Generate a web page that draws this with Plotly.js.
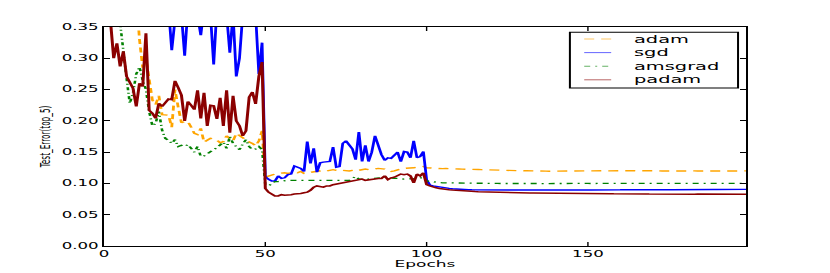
<!DOCTYPE html>
<html><head><meta charset="utf-8">
<script src="https://cdn.plot.ly/plotly-3.0.1.min.js"></script>
<style>
html,body{margin:0;padding:0;background:#fff;overflow:hidden;}
#wrap{width:830px;height:273px;overflow:hidden;}
#chart{width:415px;height:273px;transform:scaleX(2);transform-origin:0 0;}
</style></head>
<body><div id="wrap"><div id="chart"></div></div>
<script>
const seriesNames = ['adam', 'sgd', 'amsgrad', 'padam'];
const seriesColors = ['#FFA500', '#0000FF', '#008000', '#8B0000'];

const adam = [
0.90,0.75,0.65,0.58,0.52,0.48,0.45,0.43,0.42,0.41,
0.40,0.33,0.285,0.300,0.262,0.233,0.226,0.240,0.210,0.209,
0.209,0.190,0.250,0.222,0.197,0.199,0.199,0.190,0.180,0.178,
0.188,0.166,0.170,0.172,0.171,0.169,0.165,0.167,0.176,0.172,
0.168,0.180,0.176,0.172,0.169,0.166,0.164,0.160,0.168,0.184,
0.110,0.112,0.114,0.115,0.116,0.117,0.117,0.116,0.117,0.118,
0.117,0.119,0.116,0.117,0.118,0.119,0.120,0.120,0.121,0.120,
0.121,0.122,0.121,0.120,0.121,0.120,0.120,0.121,0.122,0.121,
0.122,0.123,0.122,0.122,0.123,0.124,0.124,0.123,0.121,0.119,
0.120,0.122,0.123,0.124,0.124,0.124,0.125,0.126,0.126,0.127,
0.125,0.1245,0.124,0.1242,0.1238,0.1236,0.1238,0.1233,0.1232,0.1234,
0.123,0.1228,0.1229,0.1225,0.1224,0.1226,0.1222,0.122,0.1218,0.1215,
0.1217,0.1214,0.1212,0.1213,0.121,0.1208,0.121,0.1206,0.1207,0.1204,
0.1202,0.1203,0.12,0.1201,0.1198,0.1199,0.1196,0.1197,0.1195,0.1196,
0.1194,0.1195,0.1193,0.1192,0.119,0.1193,0.1195,0.1197,0.1196,0.1198,
0.12,0.1199,0.1201,0.12,0.1202,0.1203,0.1201,0.1203,0.1204,0.1202,
0.1203,0.1205,0.1204,0.1206,0.1205,0.1203,0.1204,0.1202,0.1203,0.1201,
0.1202,0.12,0.1201,0.1199,0.12,0.1202,0.1201,0.12,0.1199,0.1201,
0.12,0.1199,0.1201,0.12,0.1198,0.12,0.1201,0.1199,0.12,0.1201,
0.12,0.1199,0.12,0.1201,0.12,0.1199,0.12,0.1201,0.12,0.12
];

const sgd = [
0.75,0.68,0.62,0.58,0.55,0.52,0.50,0.49,0.47,0.46,
0.45,0.44,0.46,0.43,0.45,0.42,0.44,0.41,0.43,0.40,
0.38,0.313,0.39,0.41,0.37,0.304,0.38,0.42,0.40,0.37,
0.337,0.38,0.41,0.37,0.290,0.38,0.42,0.40,0.37,0.309,
0.37,0.271,0.300,0.37,0.41,0.39,0.42,0.37,0.275,0.325,
0.111,0.1065,0.104,0.104,0.112,0.108,0.109,0.114,0.115,0.128,
0.126,0.124,0.119,0.167,0.132,0.156,0.118,0.133,0.134,0.134,
0.135,0.158,0.126,0.127,0.164,0.168,0.160,0.155,0.138,0.182,
0.135,0.161,0.135,0.150,0.176,0.158,0.146,0.137,0.141,0.140,
0.146,0.150,0.135,0.151,0.150,0.141,0.168,0.141,0.143,0.151,
0.106,0.0975,0.096,0.095,0.094,0.093,0.0925,0.092,0.0915,0.091,
0.0908,0.0905,0.0902,0.090,0.0898,0.0897,0.0898,0.0896,0.0897,0.0895,
0.0896,0.0894,0.0895,0.0897,0.0895,0.0894,0.0896,0.0895,0.0893,0.0894,
0.0895,0.0896,0.0894,0.0893,0.0895,0.0894,0.0896,0.0895,0.0894,0.0893,
0.0895,0.0896,0.0895,0.0894,0.0896,0.0897,0.0895,0.0894,0.0895,0.0896,
0.0897,0.0896,0.0895,0.0896,0.0897,0.0898,0.0896,0.0897,0.0898,0.0899,
0.0898,0.0899,0.0900,0.0899,0.0898,0.0899,0.0900,0.0901,0.0900,0.0899,
0.0900,0.0901,0.0900,0.0901,0.0902,0.0901,0.0900,0.0901,0.0902,0.0901,
0.0902,0.0903,0.0902,0.0901,0.0902,0.0903,0.0902,0.0903,0.0904,0.0903,
0.0902,0.0903,0.0904,0.0903,0.0904,0.0905,0.0904,0.0903,0.0904,0.0905
];

const amsgrad = [
0.80,0.65,0.55,0.47,0.40,0.35,0.305,0.268,0.228,0.245,
0.275,0.286,0.265,0.250,0.215,0.192,0.196,0.215,0.185,0.172,
0.169,0.164,0.170,0.159,0.161,0.159,0.162,0.157,0.150,0.159,
0.143,0.144,0.148,0.151,0.154,0.157,0.161,0.166,0.156,0.175,
0.164,0.158,0.154,0.163,0.170,0.159,0.154,0.155,0.159,0.154,
0.098,0.096,0.100,0.103,0.103,0.104,0.104,0.105,0.105,0.105,
0.106,0.1055,0.105,0.106,0.105,0.105,0.105,0.106,0.106,0.105,
0.106,0.106,0.105,0.106,0.106,0.105,0.105,0.108,0.111,0.107,
0.107,0.106,0.107,0.108,0.108,0.109,0.109,0.110,0.109,0.108,
0.108,0.108,0.107,0.107,0.107,0.107,0.108,0.108,0.109,0.109,
0.104,0.103,0.102,0.1015,0.1012,0.101,0.1011,0.1008,0.1009,0.1006,
0.1007,0.1005,0.1006,0.1004,0.1005,0.1003,0.1004,0.1002,0.1003,0.1001,
0.1002,0.1,0.1001,0.0999,0.1,0.1001,0.0999,0.1,0.0998,0.0999,
0.1,0.0999,0.0998,0.0999,0.1,0.0999,0.0998,0.0999,0.1,0.0999,
0.1,0.1001,0.1,0.0999,0.1,0.1001,0.1,0.0999,0.1,0.1001,
0.1,0.0999,0.1,0.1001,0.1,0.0999,0.1,0.1,0.0999,0.1,
0.1001,0.1,0.0999,0.1,0.1,0.1001,0.1,0.0999,0.1,0.1,
0.1,0.0999,0.1,0.1001,0.1,0.1,0.0999,0.1,0.1,0.1001,
0.1,0.1,0.0999,0.1,0.1,0.1001,0.1,0.1,0.0999,0.1,
0.1,0.1001,0.1,0.1,0.0999,0.1,0.1,0.1,0.1001,0.1
];

const padam = [
0.55,0.42,0.36,0.300,0.324,0.287,0.311,0.271,0.263,0.252,
0.223,0.260,0.255,0.340,0.217,0.212,0.204,0.228,0.223,0.230,
0.235,0.234,0.264,0.253,0.241,0.200,0.231,0.225,0.218,0.249,
0.204,0.245,0.192,0.225,0.224,0.203,0.237,0.192,0.249,0.181,
0.240,0.200,0.192,0.176,0.184,0.238,0.246,0.227,0.271,0.294,
0.092,0.086,0.082,0.080,0.080,0.082,0.081,0.081,0.082,0.083,
0.083,0.084,0.085,0.086,0.089,0.094,0.096,0.095,0.094,0.096,
0.096,0.098,0.099,0.099,0.100,0.101,0.102,0.104,0.105,0.106,
0.107,0.105,0.106,0.107,0.108,0.108,0.108,0.112,0.106,0.109,
0.110,0.112,0.115,0.114,0.115,0.112,0.101,0.115,0.112,0.117,
0.098,0.096,0.094,0.093,0.092,0.091,0.0905,0.090,0.0895,0.089,
0.0885,0.088,0.0878,0.0876,0.0872,0.087,0.0868,0.0866,0.0865,0.0863,
0.0862,0.086,0.0859,0.0858,0.0857,0.0855,0.0856,0.0854,0.0853,0.0852,
0.0851,0.085,0.0849,0.0848,0.0848,0.0847,0.0846,0.0847,0.0845,0.0844,
0.0844,0.0843,0.0842,0.0843,0.0841,0.0842,0.084,0.0841,0.084,0.0839,
0.0839,0.0838,0.0839,0.0837,0.0838,0.0837,0.0836,0.0837,0.0835,0.0836,
0.0835,0.0834,0.0835,0.0834,0.0833,0.0834,0.0833,0.0832,0.0833,0.0832,
0.0831,0.0832,0.0831,0.0832,0.0831,0.083,0.0831,0.083,0.0831,0.083,
0.083,0.0829,0.083,0.0829,0.083,0.0829,0.0828,0.0829,0.0828,0.0829,
0.0828,0.0829,0.0828,0.0827,0.0828,0.0829,0.0828,0.0827,0.0828,0.0827
];

const xTickVals = [0, 50, 100, 150];
const xTickText = ['0', '50', '100', '150'];
const yTickVals = [0, 0.05, 0.10, 0.15, 0.20, 0.25, 0.30, 0.35];
const yTickText = ['0.00', '0.05', '0.10', '0.15', '0.20', '0.25', '0.30', '0.35'];

const seriesData = [adam, sgd, amsgrad, padam];
const seriesDash = ['5px,3.5px', 'solid', '3px,2.5px,1px,2.5px', 'solid'];
const seriesWidth = [1.4, 1.4, 1.3, 1.5];

const traces = seriesData.map((vals, i) => ({
  type: 'scatter', mode: 'lines', name: seriesNames[i], y: vals,
  line: {color: seriesColors[i], width: seriesWidth[i], dash: seriesDash[i]},
  hoverinfo: 'skip'
}));

// hand-built legend (plotly's legend rows are too tall for this size)
const legY = [0.9452, 0.8831, 0.821, 0.7589];
const shapes = [{
  type: 'rect', xref: 'paper', yref: 'paper', x0: 0.7257, x1: 0.9876, y0: 0.7215, y1: 0.9758,
  line: {color: '#000', width: 1}, fillcolor: '#fff', layer: 'above'
}];
const annotations = [];
seriesNames.forEach((n, i) => {
  shapes.push({type: 'line', xref: 'paper', yref: 'paper', x0: 0.748, x1: 0.790, y0: legY[i], y1: legY[i],
    line: {color: seriesColors[i], width: 1, dash: seriesDash[i]}, opacity: 0.6, layer: 'above'});
  annotations.push({xref: 'paper', yref: 'paper', x: 0.8195, y: legY[i], xanchor: 'left', yanchor: 'middle',
    text: n, showarrow: false, font: {family: 'DejaVu Sans', size: 9.7, color: '#000'}});
});

const axisCommon = {
  ticks: 'inside', tickcolor: '#000', showline: true, linecolor: '#000', linewidth: 1,
  mirror: 'ticks', showgrid: false, zeroline: false, automargin: false,
  tickfont: {family: 'DejaVu Sans', size: 8.3, color: '#000'}
};

const layout = {
  width: 415, height: 273,
  margin: {l: 52, r: 41.5, t: 27, b: 27, pad: 0},
  paper_bgcolor: '#fff', plot_bgcolor: '#fff',
  showlegend: false,
  font: {family: 'DejaVu Sans', size: 8.3, color: '#000'},
  xaxis: Object.assign({}, axisCommon, {
    range: [0, 199], tickmode: 'array', tickvals: xTickVals, ticktext: xTickText,
    ticklen: 4, tickwidth: 0.7,
    title: {text: 'Epochs', font: {family: 'DejaVu Sans', size: 8.5, color: '#000'}, standoff: 0}
  }),
  yaxis: Object.assign({}, axisCommon, {
    range: [0, 0.35], tickmode: 'array', tickvals: yTickVals, ticktext: yTickText,
    ticklen: 3, tickwidth: 1,
    title: {text: 'Test_Error(top_5)', font: {family: 'DejaVu Sans', size: 7.3, color: '#000'}, standoff: 4}
  }),
  shapes: shapes,
  annotations: annotations
};

Plotly.newPlot('chart', traces, layout, {staticPlot: true, displayModeBar: false});
</script>
</body></html>
